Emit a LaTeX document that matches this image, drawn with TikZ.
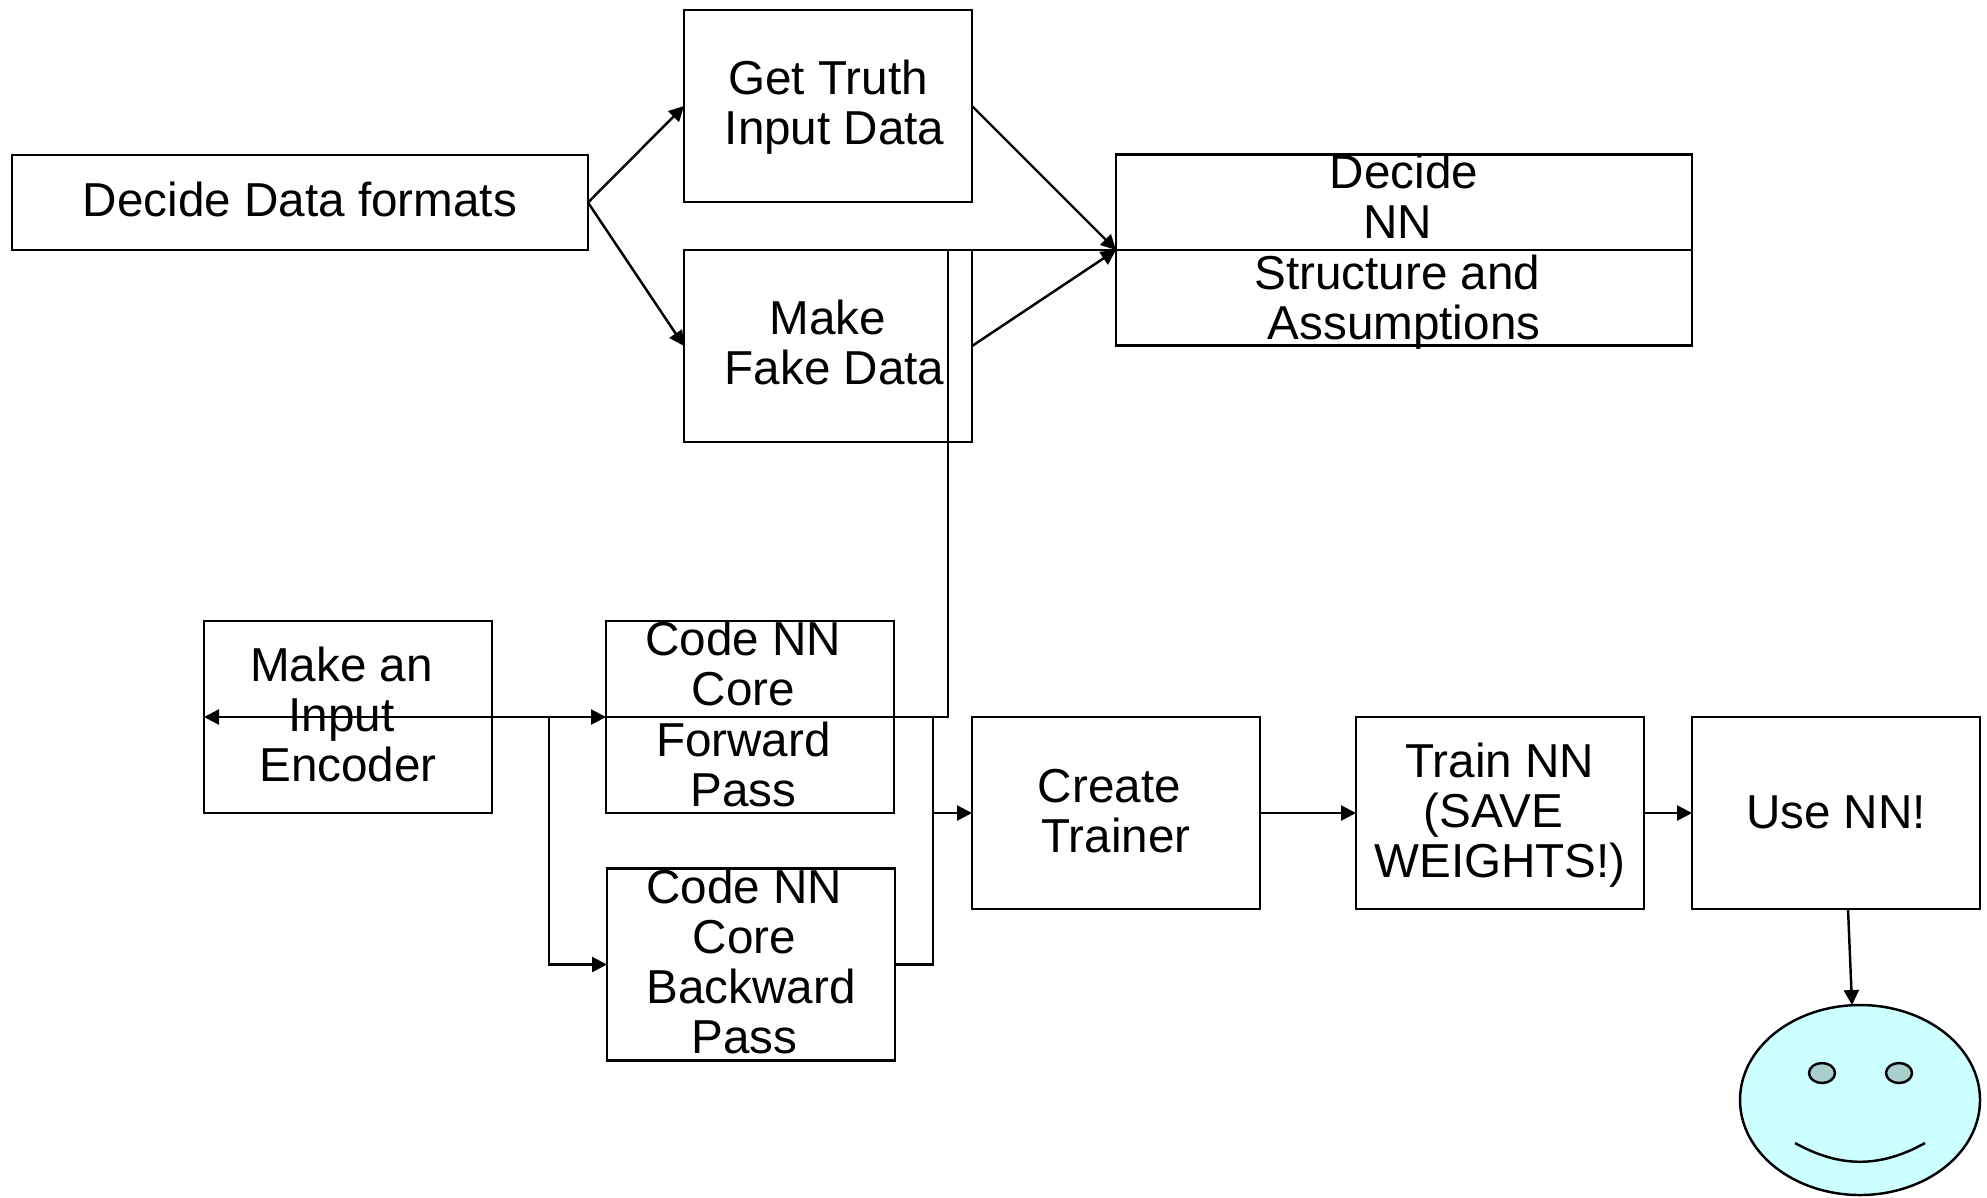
\documentclass[tikz,border=0pt]{standalone}
\usepackage{fontspec}
\setmainfont{Liberation Sans}
\usepackage{tikz}
\usetikzlibrary{arrows.meta,positioning,shapes.geometric}
\definecolor{facecol}{HTML}{CCFFFF}
\definecolor{eyecol}{HTML}{A8CFCC}
% one line pushed a space to the left or right
\newcommand{\lline}[1]{\hbox{#1\hspace{0.278em}}}
\newcommand{\rline}[1]{\hbox{\hspace{0.278em}#1}}
\tikzset{
  blok/.style={rectangle,draw=black,line width=0.7pt,inner sep=0pt,outer sep=0pt,align=center,
    font=\fontsize{13.55}{14.23}\selectfont},
  drop/.style={text height=#1,text depth=0cm},
  tall/.style={blok,minimum width=2.88cm,minimum height=1.92cm},
  orb/.style={ellipse,draw=black,line width=0.7pt,inner sep=0pt,outer sep=0pt},
  eye/.style={orb,fill=eyecol,minimum width=0.26cm,minimum height=0.2cm},
  link/.style={draw=black,line width=0.7pt,>={Triangle[length=1.5mm,width=1.5mm]}}
}
\begin{document}
\begin{tikzpicture}
\useasboundingbox (0,0) rectangle (19.87,-11.97);
\node[blok,drop=0.28cm,minimum width=5.76cm,minimum height=0.95cm] (df) at (3,-2.025){Decide Data formats};
\node[tall,drop=0.77cm] (gt) at (8.28,-1.06){Get Truth\\\rline{Input Data}};
 \node[tall,drop=0.77cm] (fd) at (8.28,-3.46){Make\\\rline{Fake Data}};
 \node[blok,drop=1.78cm,minimum width=5.76cm,minimum height=1.91cm] (nn) at (14.04,-2.5){Decide\\\lline{NN}\\\lline{Structure and}\\Assumptions};
    \draw[link,->] (df.east) to (gt.west);
    \draw[link,->] (df.east) to (fd.west);
    \draw[link,->] (gt.east) to (nn.west);
    \draw[link,->] (fd.east) to (nn.west);
\node[tall,drop=1.294cm] (ie) at (3.48,-7.17){\lline{Make an}\\\lline{Input}\\Encoder};
 \node[tall,drop=1.78cm] (cf) at (7.5,-7.17){\lline{Code NN}\\\lline{Core}\\\lline{Forward}\\\lline{Pass}};
 \node[tall,drop=1.78cm] (cb) at (7.51,-9.645){\lline{Code NN}\\\lline{Core}\\Backward\\\lline{Pass}};
 \node[tall,drop=0.79cm] (ct) at (11.16,-8.13){\lline{Create}\\Trainer};
 \node[tall,drop=1.294cm] (tn) at (15,-8.13){Train NN\\\lline{(SAVE}\\WEIGHTS!)};
 \node[tall,drop=0.30cm] (un) at (18.36,-8.13){Use NN!};
% the joins between the lower boxes
\coordinate (ji) at (5.49,-7.17);
\coordinate (jf) at (9.33,-7.17);
\coordinate (jt) at (9.33,-8.13);
\coordinate (jn) at (9.48,-7.17);
    \draw[link,<->] (ie.west) to (cf.west);
    \draw[link,->] (ji) |- (cb.west);
    \draw[link] (cf.west) -- (jn) |- (nn.west);
    \draw[link] (nn.west) to (nn.east);
    \draw[link] (cf.east) -- (jf) -- (jt);
    \draw[link] (cb.east) -| (jt);
    \draw[link,->] (jt) to (ct.west);
    \draw[link,->] (ct.east) to (tn.west);
    \draw[link,->] (tn.east) to (un.west);
% face
\node[orb,fill=facecol,minimum width=2.4cm,minimum height=1.9cm] (fc) at (18.6,-11){};
 \node[eye] (el) at (18.22,-10.73){};
 \node[eye] (er) at (18.99,-10.73){};
    \draw[link,->] ([xshift=0.12cm]un.south) to ([xshift=-0.08cm]fc.north);
    \draw[line width=0.7pt] (17.95,-11.43) .. controls (18.4,-11.68) and (18.8,-11.68) .. (19.25,-11.43);
\end{tikzpicture}
\end{document}
